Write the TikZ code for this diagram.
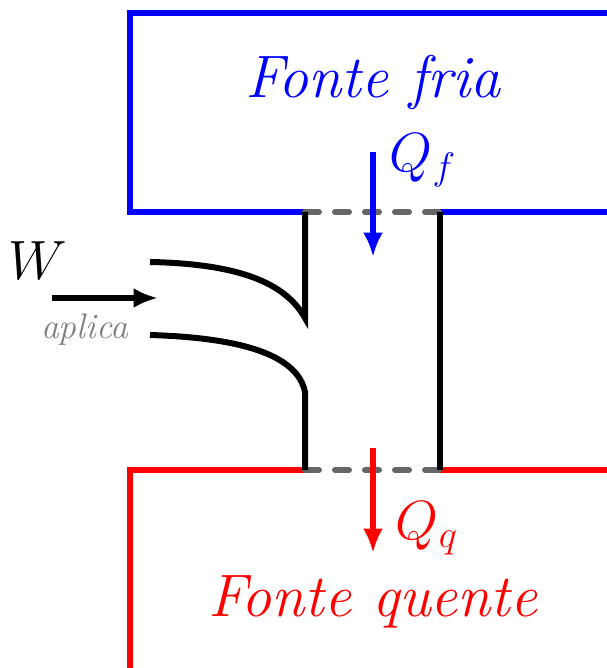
\documentclass[tikz,border=0pt]{standalone}
\usetikzlibrary{arrows.meta,positioning}
\tikzset{
  parede/.style={line width=2.7pt},
  seta/.style={line width=2.7pt,-{Latex[length=11pt,width=9pt]}},
  trac/.style={line width=2.7pt,black!60,line cap=round,dash pattern=on 6.3pt off 7.2pt},
  rot/.style={font=\fontsize{27}{32}\selectfont},
}
\begin{document}
\begin{tikzpicture}[x=0.45pt,y=-0.45pt]
  \useasboundingbox (0,0) rectangle (606,668);
  % fonte fria
  \draw[parede,blue] (305,212) -- (130,212) -- (130,13) -- (620,13);
  \draw[parede,blue] (440,212) -- (620,212);
  % fonte quente
  \draw[parede,red] (130,680) -- (130,470) -- (305,470);
  \draw[parede,red] (440,470) -- (620,470);
  % aberturas
  \draw[trac] (305,212) -- (440,212);
  \draw[trac] (305,470) -- (440,470);
  % paredes da maquina
  \draw[parede] (440,212) -- (440,470);
  \draw[parede] (305,212) -- (305,318) .. controls (288,288) and (250,264) .. (150,262);
  \draw[parede] (150,335) .. controls (250,338) and (298,358) .. (305,392) -- (305,470);
  % textos
  \node[rot,blue] (fria) at (373,83) {\textit{Fonte fria}};
  \node[rot,red] (quente) at (373,602) {\textit{Fonte quente}};
  \node[rot,blue] (Qf) at (423,160) {$Q_f$};
  \node[rot,red] (Qq) at (427,528) {$Q_q$};
  % trabalho
  \coordinate (w1) at (52,298);
  \coordinate (w2) at (158,298);
  \draw[seta] (w1) -- (w2);
  \node[rot] (W) at (38,261) {$W$};
  \node[font=\fontsize{16}{19}\selectfont,black!50] (apl) at (85,330) {\textit{aplica}};
  % calores
  \coordinate (f1) at (373,152);
  \coordinate (f2) at (373,257);
  \draw[seta,blue] (f1) -- (f2);
  \coordinate (q1) at (373,448);
  \coordinate (q2) at (373,553);
  \draw[seta,red] (q1) -- (q2);
\end{tikzpicture}
\end{document}
